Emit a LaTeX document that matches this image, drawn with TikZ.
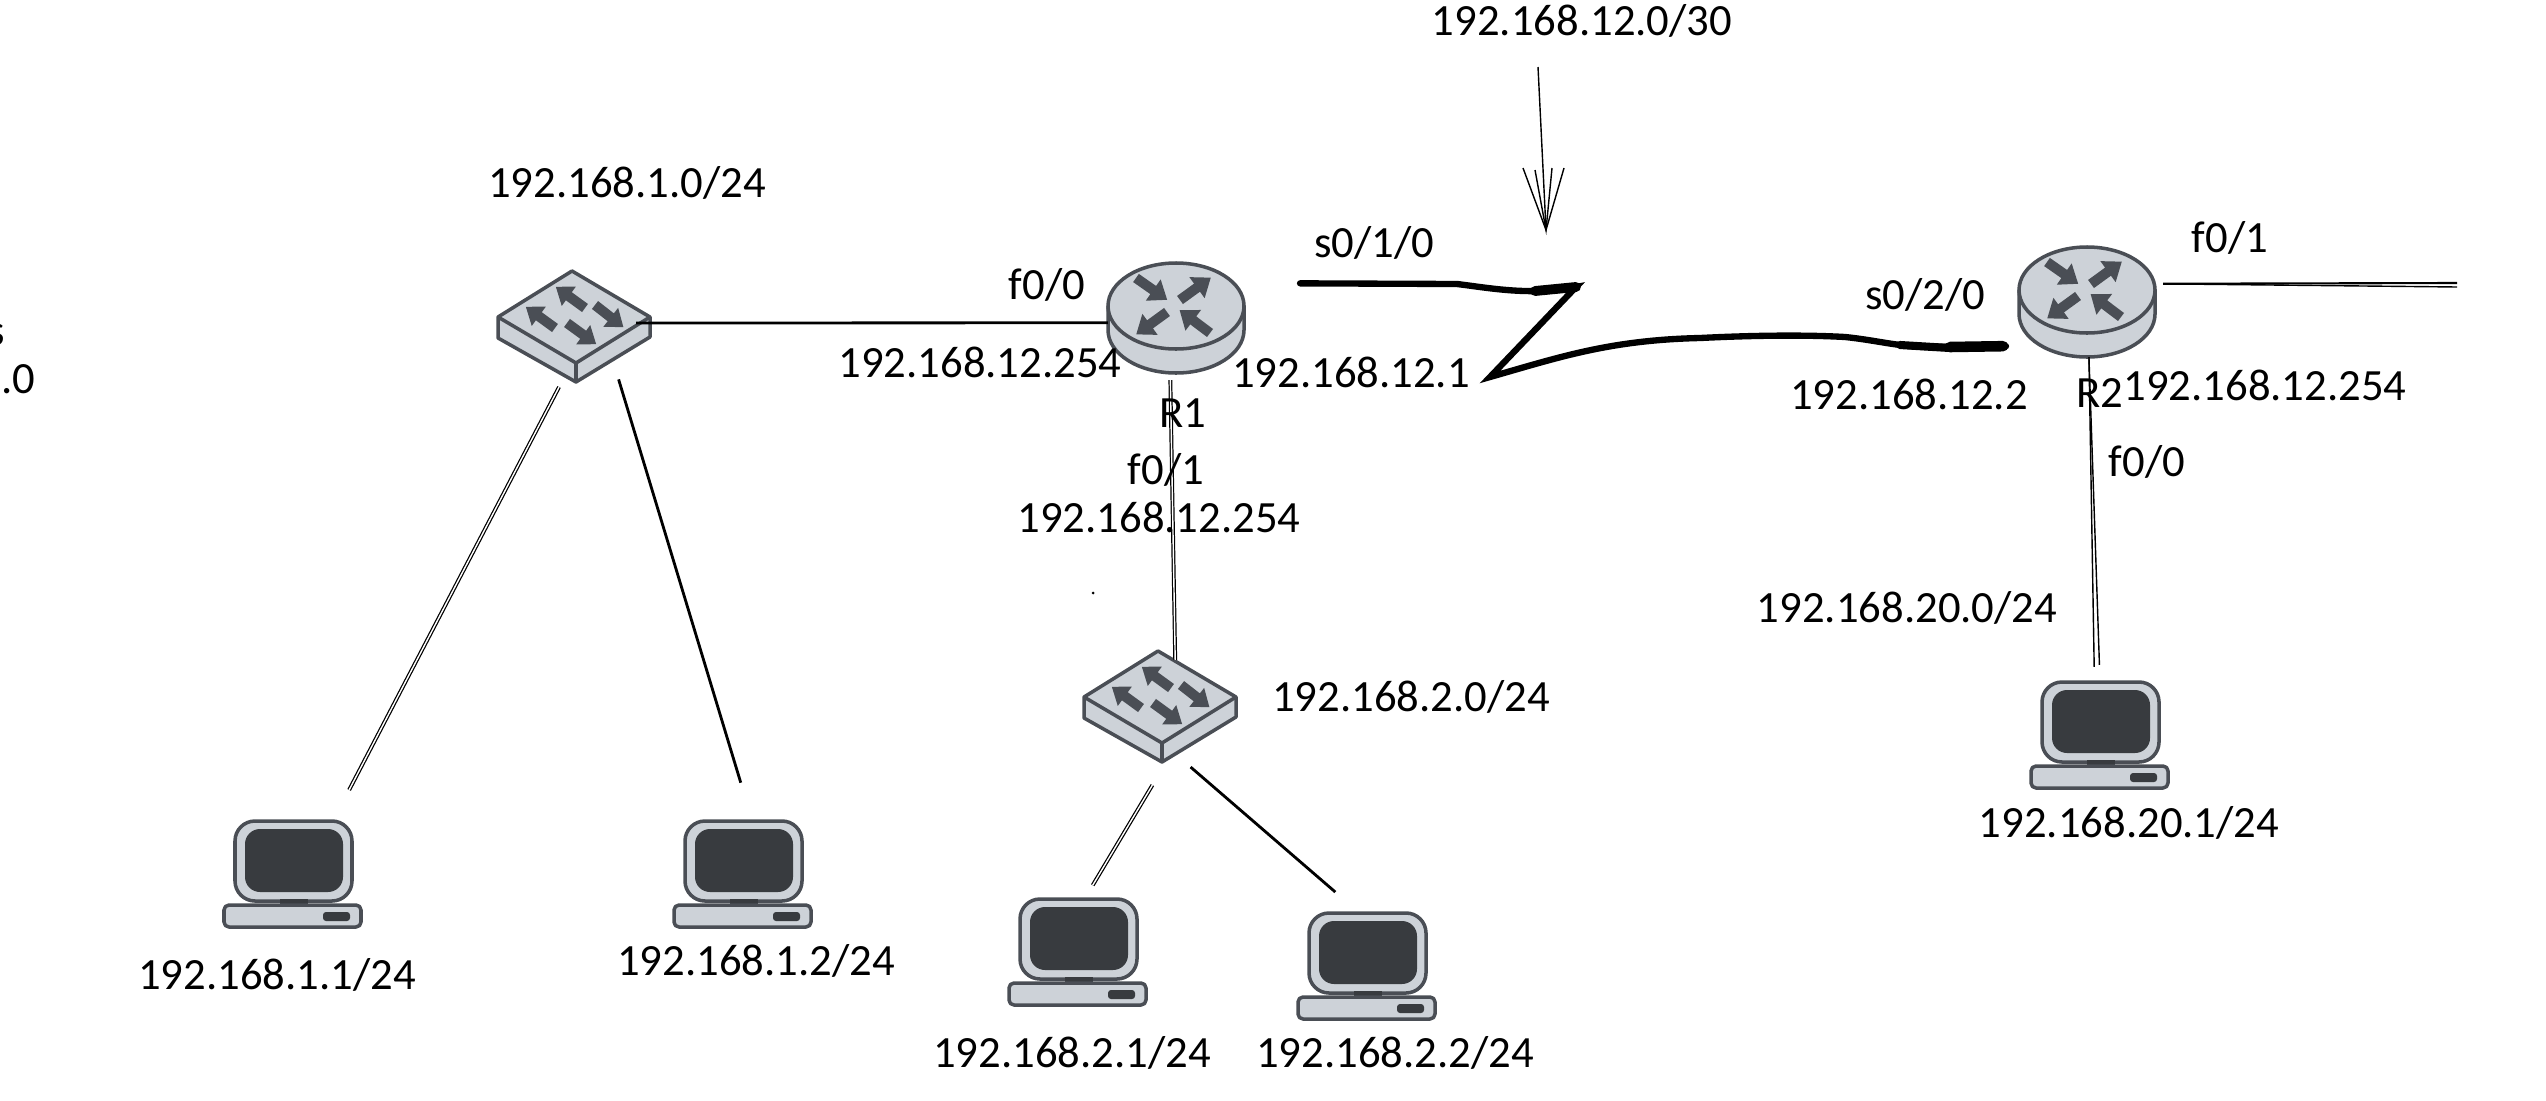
\documentclass[tikz,border=0pt]{standalone}
\usepackage{fontspec}
\setmainfont{Carlito}
\usetikzlibrary{calc}
\definecolor{devfill}{HTML}{CDD2D8}
\definecolor{devline}{HTML}{4A4E55}
\definecolor{devscreen}{HTML}{383B3F}
\newcommand{\netfont}{\fontsize{12.7}{14}\selectfont}
\tikzset{
  routerbox/.style={minimum width=1.36cm,minimum height=1.10cm,outer sep=0pt},
  switchbox/.style={minimum width=1.52cm,minimum height=1.20cm,outer sep=0pt},
  pcbox/.style={minimum width=1.37cm,minimum height=1.06cm,outer sep=0pt},
  wire/.style={black,line width=0.8pt},
  dwire/.style={black,line width=0.35pt,double=white,double distance=0.4pt},
  serial/.style={black,line width=1.8pt,line cap=round,line join=miter},
  devedge/.style={draw=devline,fill=devfill,line width=1pt,line join=round},
  routericon/.pic={
    \draw [devedge] (-68,12) -- (-68,-12) arc (180:360:68 and 43) -- (68,12) -- cycle;
    \draw [devedge] (0,12) ellipse (68 and 43);
    \foreach \tx/\ty/\ang in {-40/40/-35,4/18/36,-9/6/216,34/-15/143}
      \fill [devline,shift={(\tx,\ty)},rotate=\ang] (0,-5) -- (21,-5) -- (21,-13) -- (38,0) -- (21,13) -- (21,5) -- (0,5) -- cycle;
  },
  switchicon/.pic={
    \draw [devedge] (-76,10) -- (-76,-11) -- (2,-55) -- (76,-10) -- (76,10) -- (-2,56) -- cycle;
    \draw [devedge] (-76,10) -- (2,-36) -- (76,10);
    \draw [devedge,fill=none] (2,-36) -- (2,-55);
    \foreach \tx/\ty/\ang in {-19/-1/144,11/19/144,21/22/-38,-7/4/-36}
      \fill [devline,shift={(\tx,\ty)},rotate=\ang] (0,-5) -- (20,-5) -- (20,-12) -- (36,0) -- (20,12) -- (20,5) -- (0,5) -- cycle;
  },
  pcicon/.pic={
    \draw [devedge,rounded corners=0.2cm] (-58,53) rectangle (59,-27);
    \fill [devscreen,rounded corners=0.15cm] (-48,45) rectangle (50,-18);
    \fill [devscreen] (-13,-25) rectangle (15,-33);
    \draw [devedge,rounded corners=0.05cm] (-69,-31) rectangle (68,-53);
    \fill [devscreen,rounded corners=0.03cm] (30,-38) rectangle (57,-47);
  }
}
\begin{document}
\begin{tikzpicture}[x=0.01cm,y=0.01cm]
    \tikzstyle{every node}+=[inner sep=0pt,font=\netfont]
    \useasboundingbox (0,0) rectangle (2546,-1100);
    \node [switchbox] (sw1) at (574,-327) {};
    \node [switchbox] (sw2) at (1160,-707) {};
    \node [routerbox] (r1) at (1176,-318) {};
    \node [routerbox] (r2) at (2087,-302) {};
    \node [pcbox] (pc1) at (293,-874) {};
    \node [pcbox] (pc2) at (743,-874) {};
    \node [pcbox] (pc3) at (1078,-952) {};
    \node [pcbox] (pc4) at (1367,-966) {};
    \node [pcbox] (pc5) at (2100,-735) {};
    \pic at (sw1.center) {switchicon};
    \pic at (sw2.center) {switchicon};
    \pic at (r1.center) {routericon};
    \pic at (r2.center) {routericon};
    \pic at (pc1.center) {pcicon};
    \pic at (pc2.center) {pcicon};
    \pic at (pc3.center) {pcicon};
    \pic at (pc4.center) {pcicon};
    \pic at (pc5.center) {pcicon};
    \draw [wire,shorten <=-0.14cm] (sw1.3.8) -- (r1.-176.6);
    \draw [dwire,shorten >=0.35cm] (sw1.-104) -- (pc1.53);
    \draw [wire,shorten <=-0.08cm,shorten >=0.40cm] (sw1.-52.5) -- (pc2.80.4);
    \draw [dwire,shorten <=0.07cm,shorten >=-0.13cm] (r1.-96) -- (sw2.76);
    \draw [dwire,shorten <=0.21cm,shorten >=0.16cm] (sw2.-87) -- (pc3.83.5);
    \draw [wire,shorten >=0.32cm] (sw2.-63.4) -- (pc4.98.6);
    \draw [wire,line width=0.4pt,shorten >=0.15cm] (r2.-88) -- (pc5.96.5);
    \draw [wire,line width=0.4pt,shorten >=0.17cm] (r2.-88) -- (pc5.90);
    \coordinate (f01end) at (2457,-283);
    \coordinate (f01endb) at (2457,-287);
    \draw [wire,line width=0.6pt,shorten <=0.08cm] (r2.15.6) -- (f01end);
    \draw [wire,line width=0.4pt,shorten <=0.08cm] (r2.15.6) -- (f01endb);
    \coordinate (ztop) at (1576,-287);
    \coordinate (zbot) at (1490,-377);
    \draw [serial] ($(r1.27)+(56,0)$) -- (1457,-284) .. controls (1490,-288) and (1530,-296) .. (ztop) -- (zbot) .. controls (1560,-357) and (1610,-340) .. (1700,-338) .. controls (1760,-335) and (1810,-335) .. (1845,-337) .. controls (1875,-340) and (1900,-347) .. (1928,-347) -- ($(r2.213.5)+(-13,0)$);
    \draw [serial,line width=2.8pt] (1535,-291) -- (ztop);
    \draw [serial,line width=2.3pt] (1900,-345) -- (1950,-348);
    \draw [serial,line width=3pt] (1950,-347) -- ($(r2.213.5)+(-16,0)$);
    \coordinate (arrowtop) at (1538,-67);
    \coordinate (arrowtip) at (1546,-230);
    \draw [wire,line width=0.4pt] (arrowtop) -- (arrowtip);
    \draw [wire,line width=0.4pt] (1523,-168) -- (arrowtip) -- (1564,-168);
    \draw [wire,line width=0.4pt] (1535,-170) -- (arrowtip) -- (1552,-168);
    \fill [black] (1093,-593) circle (1.5);
    \draw (627,-183) node (lansw1) {192.168.1.0/24};
    \draw (1047,-285) node (fzero) {f0/0};
    \draw (980,-362) node (ipone) {192.168.12.254};
    \draw (1183,-413) node (rone) {R1};
    \draw (1166,-470) node (fone) {f0/1};
    \draw (1159,-517) node (iptwo) {192.168.12.254};
    \draw (1582,-21) node (lanser) {192.168.12.0/30};
    \draw (1374,-243) node (sone) {s0/1/0};
    \draw (1351,-372) node (ipser) {192.168.12.1};
    \draw (1925,-295) node (stwo) {s0/2/0};
    \draw (1909,-394) node (ipsertwo) {192.168.12.2};
    \draw (2100,-393) node (rtwo) {R2};
    \draw (2265,-385) node (ipthree) {192.168.12.254};
    \draw (2230,-238) node (ftwo) {f0/1};
    \draw (2147,-462) node (fthree) {f0/0};
    \draw (1907,-608) node (lanrtwo) {192.168.20.0/24};
    \draw (1411,-697) node (lansw2) {192.168.2.0/24};
    \draw (277,-975) node (hostone) {192.168.1.1/24};
    \draw (756,-961) node (hosttwo) {192.168.1.2/24};
    \draw (1072,-1053) node (hostthree) {192.168.2.1/24};
    \draw (1395,-1053) node (hostfour) {192.168.2.2/24};
    \draw (2129,-823) node (hostfive) {192.168.20.1/24};
    \draw (36,-379) node [anchor=east] (cutzero) {.0};
    \draw (6,-335) node [anchor=east] (cuttop) {s};
\end{tikzpicture}
\end{document}
